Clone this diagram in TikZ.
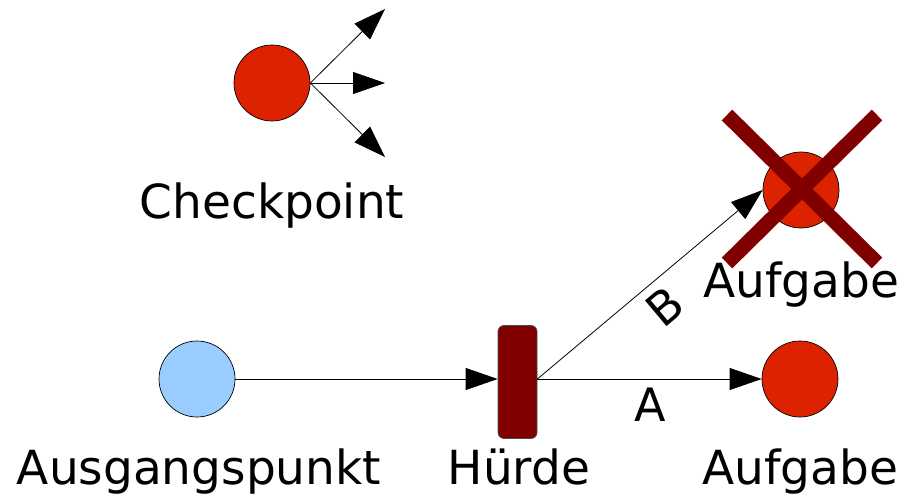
\documentclass[tikz,border=0pt]{standalone}
\usepackage{fontspec}
\setmainfont{DejaVu Sans}
\usetikzlibrary{arrows.meta}
\definecolor{taskred}{HTML}{DD2200}
\definecolor{startblue}{HTML}{99CCFF}
\definecolor{darkmaroon}{HTML}{800000}
\tikzset{
  station/.style={circle, draw=black, line width=0.7pt, minimum size=76pt, inner sep=0pt},
  task/.style={station, fill=taskred},
  label text/.style={font=\fontsize{47}{56}\selectfont, anchor=base, inner sep=0pt},
  small label/.style={font=\fontsize{46}{54}\selectfont, inner sep=0pt},
  flow/.style={line width=0.8pt, -{Triangle[length=32pt,width=22pt]}},
}
\begin{document}
\begin{tikzpicture}[x=1pt,y=-1pt]
  \useasboundingbox (0,0) rectangle (903,495);

  % checkpoint with its three outgoing arrows
  \node[task] (cp) at (272,83) {};
  \coordinate (cpUp) at (385,9);
  \coordinate (cpMid) at (385,83);
  \coordinate (cpDown) at (385,157);
  \draw[flow] (cp.east) -- (cpUp);
  \draw[flow] (cp.east) -- (cpMid);
  \draw[flow] (cp.east) -- (cpDown);
  \node[label text] (cpLabel) at (272,218) {Checkpoint};

  % start point
  \node[station, fill=startblue] (start) at (197,379) {};
  \node[label text] (startLabel) at (199,484) {Ausgangspunkt};

  % hurdle
  \node[draw=black!70, line width=0.7pt, fill=darkmaroon, rounded corners=6pt,
        minimum width=39pt, minimum height=113pt, inner sep=0pt] (hurdle) at (517.5,382) {};
  \node[label text] (hurdleLabel) at (519,484) {Hürde};

  % tasks
  \node[task] (taskA) at (800,379) {};
  \node[label text] (taskALabel) at (800,484) {Aufgabe};
  \node[task] (taskB) at (801,190) {};
  \node[label text] (taskBLabel) at (801,297) {Aufgabe};

  % connections
  \draw[flow] (start.east) -- (hurdle.west |- start.east);
  \draw[flow] (hurdle.east |- start.east) -- (taskA.west);
  \draw[flow] (hurdle.east |- start.east) -- (taskB.west);
  \node[small label] (labelA) at (650,405) {A};
  \node[small label, rotate=40] (labelB) at (665,307) {B};

  % crossed-out task
  \coordinate (xTL) at (727,115);
  \coordinate (xBR) at (877,263);
  \coordinate (xTR) at (877,115);
  \coordinate (xBL) at (727,263);
  \draw[darkmaroon, line width=15pt] (xTL) -- (xBR);
  \draw[darkmaroon, line width=15pt] (xTR) -- (xBL);
\end{tikzpicture}
\end{document}
